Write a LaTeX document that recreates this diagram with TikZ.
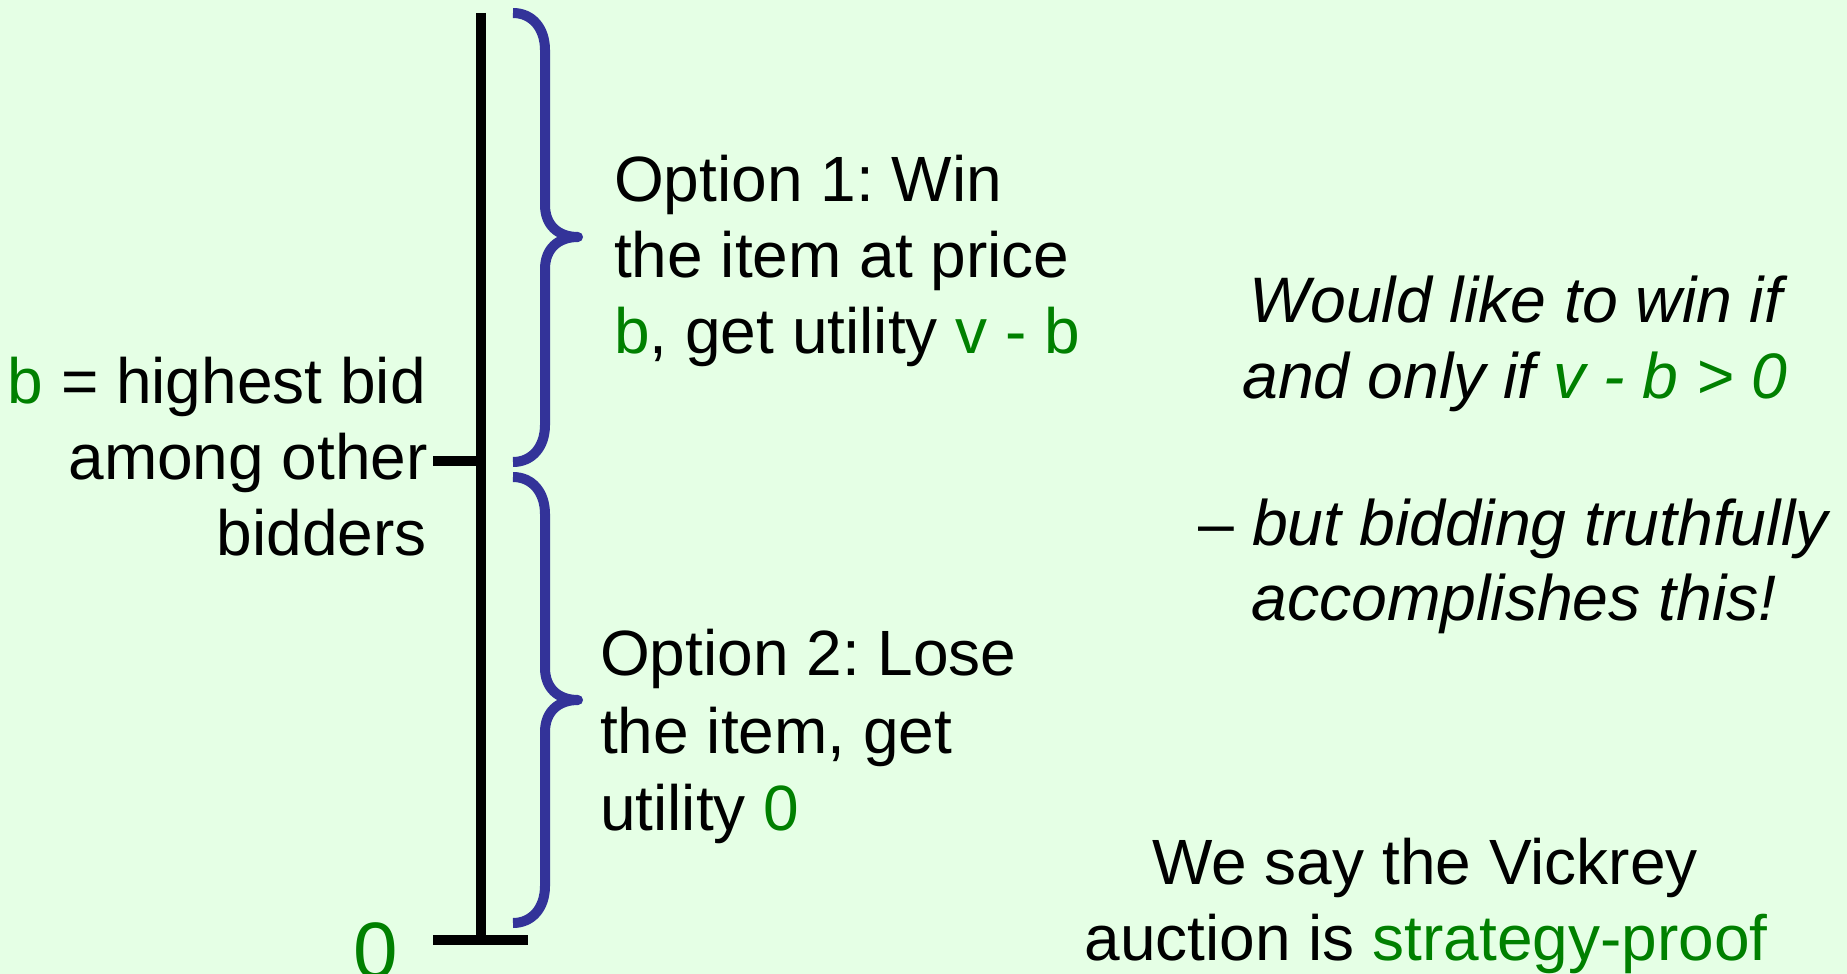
\documentclass[tikz,border=0pt]{standalone}
\usepackage{fontspec}
\setmainfont{Liberation Sans}
\frenchspacing
\definecolor{bgcol}{RGB}{229,255,229}
\definecolor{gtext}{RGB}{0,128,0}
\definecolor{bracecol}{RGB}{51,51,153}
\tikzset{
  txt/.style={inner sep=0pt, font=\fontsize{64}{76}\selectfont},
  itxt/.style={txt, font=\fontsize{64.3}{76}\selectfont\itshape},
  axisline/.style={line width=10pt, black},
  bracepath/.style={line width=10pt, bracecol, line join=round}
}
\begin{document}
\begin{tikzpicture}[x=1pt,y=-1pt]
\fill[bgcol] (0,0) rectangle (1847,974);
\useasboundingbox (0,0) rectangle (1847,974);
% axis
\coordinate (top) at (481,13);
\coordinate (bot) at (481,940);
\coordinate (bl) at (433,940);
\coordinate (br) at (528,940);
\coordinate (mid) at (481,461);
\coordinate (ml) at (433,461);
\draw[axisline] (top) -- (bot);
\draw[axisline] (bl) -- (br);
\draw[axisline] (ml) -- (mid);
% braces
\draw[bracepath] (513,13) .. controls (532,13) and (545,28) .. (545,50) -- (545,205)
  .. controls (545,225) and (558,237) .. (578,237)
  .. controls (558,237) and (545,249) .. (545,269) -- (545,425)
  .. controls (545,447) and (532,462) .. (513,462);
\draw[bracepath] (513,477) .. controls (532,477) and (545,492) .. (545,514) -- (545,668)
  .. controls (545,688) and (558,700) .. (578,700)
  .. controls (558,700) and (545,712) .. (545,732) -- (545,886)
  .. controls (545,908) and (532,923) .. (513,923);
% left labels
\node[txt, anchor=base east] (l1) at (426,403) {\textcolor{gtext}{b} = highest bid};
\node[txt, anchor=base east] (l2) at (428,479) {among other};
\node[txt, anchor=base east] (l3) at (427,555) {bidders};
\node[inner sep=0pt, font=\fontsize{80}{90}\selectfont, anchor=base, text=gtext] (zero) at (376,978) {0};
% option 1
\node[txt, anchor=base west] (o11) at (614,201) {Option 1: Win};
\node[txt, anchor=base west] (o12) at (614,277) {the item at price};
\node[txt, anchor=base west] (o13) at (614,353) {\textcolor{gtext}{b}, get utility \textcolor{gtext}{v - b}};
% option 2
\node[txt, anchor=base west] (o21) at (600,675) {Option 2: Lose};
\node[txt, anchor=base west] (o22) at (600,753) {the item, get};
\node[txt, anchor=base west] (o23) at (600,830) {utility \textcolor{gtext}{0}};
% right
\node[itxt, anchor=base] (r1) at (1516,322) {Would like to win if};
\node[itxt, anchor=base] (r2) at (1515,398) {and only if \textcolor{gtext}{v - b > 0}};
\node[itxt, anchor=base] (r3) at (1513,545) {\upshape–\itshape\ but bidding truthfully};
\node[itxt, anchor=base] (r4) at (1514,620) {accomplishes this!};
\node[txt, anchor=base] (s1) at (1425,884) {We say the Vickrey};
\node[txt, anchor=base] (s2) at (1426,960) {auction is \textcolor{gtext}{strategy-proof}};
\end{tikzpicture}
\end{document}
